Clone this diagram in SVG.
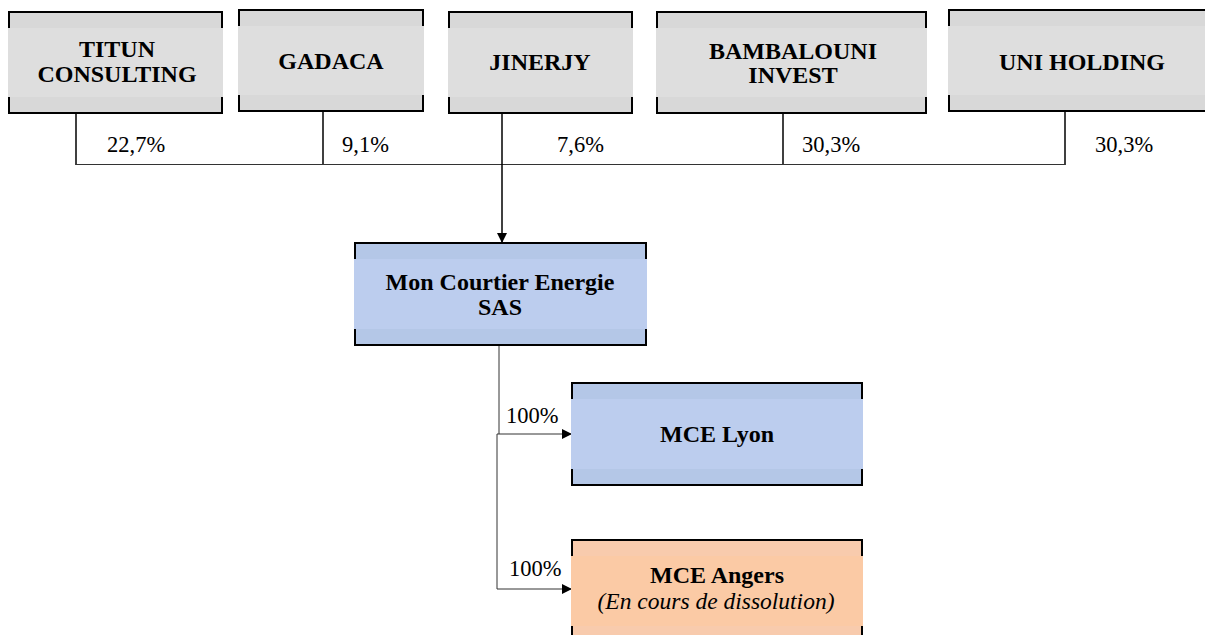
<svg xmlns="http://www.w3.org/2000/svg" width="1205" height="635" viewBox="0 0 1205 635">
<style>
.box{stroke:#000;stroke-width:2}
.gray .box{fill:#d8d8d8}
.gray .band{fill:#dedede}
.blue .box{fill:#b4c7e7}
.blue .band{fill:#bccdee}
.orange .box{fill:#f8cbad}
.orange .band{fill:#fbcaa5}
.band{stroke:none}
.t{font-family:"Liberation Serif","Times New Roman",serif;font-size:24px;font-weight:bold;text-anchor:middle;fill:#000}
.i{font-family:"Liberation Serif","Times New Roman",serif;font-size:23.5px;font-style:italic;text-anchor:middle;fill:#000}
.p{font-family:"Liberation Serif","Times New Roman",serif;font-size:22.5px;fill:#000}
.c{fill:none;stroke:#000;stroke-width:1.5}
.h{fill:none;stroke:#333;stroke-width:1}
</style>
<defs>
<marker id="arr" viewBox="0 0 10 10" refX="10" refY="5" markerWidth="10" markerHeight="10" markerUnits="userSpaceOnUse" orient="auto">
<path d="M0,0 L10,5 L0,10 z" fill="#000"/>
</marker>
</defs>

<g id="connectors">
<line class="c" x1="76" y1="113" x2="76" y2="165"/>
<line class="c" x1="323" y1="111" x2="323" y2="164"/>
<line class="c" x1="783" y1="113" x2="783" y2="164"/>
<line class="c" x1="1065" y1="111" x2="1065" y2="165"/>
<line class="h" x1="76" y1="164.5" x2="1065" y2="164.5"/>
<path class="c" d="M502,113 V243" marker-end="url(#arr)"/>
<path class="h" d="M499,345 V434"/>
<path class="h" d="M497,434 H572" marker-end="url(#arr)"/>
<path class="h" d="M497,434 V589 H572" marker-end="url(#arr)"/>
<text class="p" x="107" y="152">22,7%</text>
<text class="p" x="342" y="152">9,1%</text>
<text class="p" x="557" y="152">7,6%</text>
<text class="p" x="802" y="152">30,3%</text>
<text class="p" x="1095" y="152">30,3%</text>
<text class="p" x="506" y="423">100%</text>
<text class="p" x="509" y="576">100%</text>
</g>

<g id="titun" class="gray">
<rect class="box" x="9" y="12" width="213" height="101"/>
<rect class="band" x="8" y="28" width="215" height="69"/>
<text class="t" x="117" y="57">TITUN</text>
<text class="t" x="117" y="82">CONSULTING</text>
</g>
<g id="gadaca" class="gray">
<rect class="box" x="239" y="10" width="184" height="101"/>
<rect class="band" x="238" y="26" width="186" height="69"/>
<text class="t" x="331" y="69">GADACA</text>
</g>
<g id="jinerjy" class="gray">
<rect class="box" x="449" y="12" width="183" height="101"/>
<rect class="band" x="448" y="28" width="185" height="69"/>
<text class="t" x="540" y="70">JINERJY</text>
</g>
<g id="bambalouni" class="gray">
<rect class="box" x="657" y="12" width="269" height="101"/>
<rect class="band" x="656" y="28" width="271" height="69"/>
<text class="t" x="793" y="59">BAMBALOUNI</text>
<text class="t" x="793" y="83">INVEST</text>
</g>
<g id="uni-holding" class="gray">
<rect class="box" x="949" y="10" width="262" height="101"/>
<rect class="band" x="948" y="26" width="264" height="69"/>
<text class="t" x="1082" y="70">UNI HOLDING</text>
</g>
<g id="mce-sas" class="blue">
<rect class="box" x="355" y="243" width="291" height="102"/>
<rect class="band" x="354" y="259" width="293" height="70"/>
<text class="t" x="500" y="290">Mon Courtier Energie</text>
<text class="t" x="500" y="315">SAS</text>
</g>
<g id="mce-lyon" class="blue">
<rect class="box" x="572" y="383" width="290" height="102"/>
<rect class="band" x="571" y="399" width="292" height="70"/>
<text class="t" x="717" y="442">MCE Lyon</text>
</g>
<g id="mce-angers" class="orange">
<rect class="box" x="572" y="540" width="290" height="102"/>
<rect class="band" x="571" y="556" width="292" height="70"/>
<text class="t" x="717" y="583">MCE Angers</text>
<text class="i" x="716" y="609">(En cours de dissolution)</text>
</g>
</svg>
